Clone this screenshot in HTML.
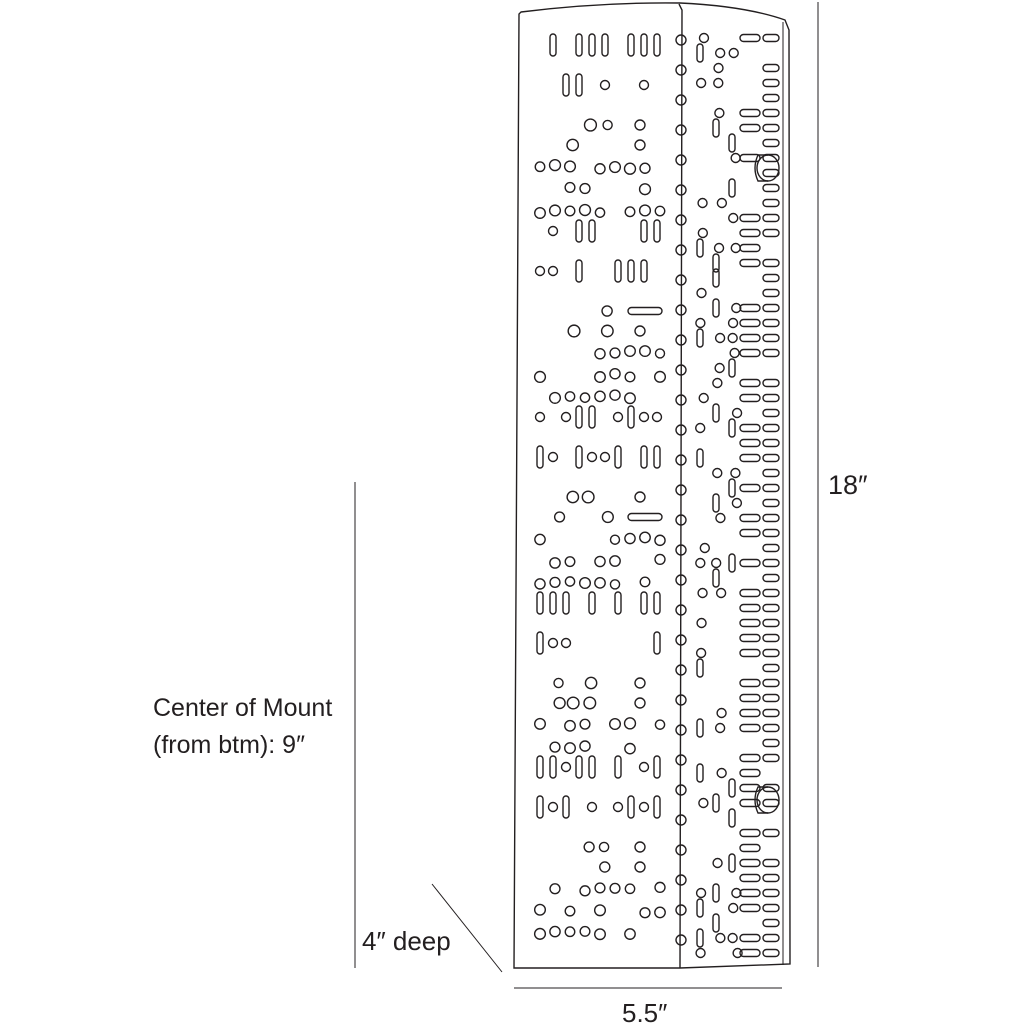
<!DOCTYPE html>
<html><head><meta charset="utf-8">
<style>
html,body{margin:0;padding:0;background:#fff;width:1024px;height:1024px;overflow:hidden}
svg{display:block}
text{font-family:"Liberation Sans",sans-serif;fill:#231f20}
</style></head>
<body>
<svg id="s" width="1024" height="1024" viewBox="0 0 1024 1024" xmlns="http://www.w3.org/2000/svg">
<g fill="none" stroke="#231f20" stroke-width="1.4">
<path d="M521,12 Q600,2 680,3 Q745,6 785,20 L789,30 L790,964 L680,968 L514,968 L517,400 L519,14 Z"/>
<path d="M783,22 L783,965" stroke-width="1"/>
<path d="M679,4 L682,10 L680,968"/>
<line x1="818" y1="2" x2="818" y2="967" stroke-width="1"/>
<line x1="355" y1="482" x2="355" y2="968" stroke-width="1"/>
<line x1="432" y1="884" x2="502" y2="972" stroke-width="1"/>
<line x1="514" y1="988" x2="782" y2="988" stroke-width="1"/>
<g id="pat" stroke-width="1.4"></g>
<ellipse cx="768" cy="168" rx="11" ry="13"/>
<path d="M768,155 L758,155 Q752,168 758,181 L768,181"/>
<ellipse cx="768" cy="800" rx="11" ry="13"/>
<path d="M768,787 L758,787 Q752,800 758,813 L768,813"/>
</g>
<text x="828" y="494" font-size="27">18″</text>
<text x="153" y="716" font-size="25">Center of Mount</text>
<text x="153" y="753" font-size="25">(from btm): 9″</text>
<text x="362" y="950" font-size="26">4″ deep</text>
<text x="622" y="1022" font-size="26">5.5″</text>
</svg>
<script>
(function(){
var g=document.getElementById('pat');var ns='http://www.w3.org/2000/svg';
var seed=11;function r(){seed=(seed*16807)%2147483647;return seed/2147483647;}
function add(tag,a){var e=document.createElementNS(ns,tag);for(var k in a)e.setAttribute(k,a[k]);g.appendChild(e);}
var y=45;
while(y<950){
  var band=Math.floor((y-45)/60)%3;
  if(band==0){
    for(var x=540;x<668;x+=13){ if(r()<0.3) continue;
      if(r()<0.7) add('rect',{x:x-3,y:y-11,width:6,height:22,rx:3});
      else add('circle',{cx:x,cy:y,r:4.5});}
    y+=40;
  } else if(band==1){
    for(var x=540;x<612;x+=16){ if(r()<0.35) add('circle',{cx:x+r()*4,cy:y,r:4.5+r()*1.5});}
    if(r()<0.7) add('rect',{x:628,y:y-3.5,width:34,height:7,rx:3.5});
    else add('circle',{cx:640,cy:y,r:5});
    y+=20;
  } else {
    for(var x=540;x<668;x+=15){ if(r()<0.4) continue;
      add('circle',{cx:x,cy:y+r()*4,r:4.5+r()});}
    y+=22;
  }
}
for(var yy=40;yy<950;yy+=30) add('circle',{cx:681,cy:yy,r:5});
for(var yy=38;yy<960;yy+=15){
  for(var x=700;x<735;x+=16){ var t=r();
    if(t<0.3) add('circle',{cx:x+r()*6,cy:yy,r:4.5});
    else if(t<0.45) add('rect',{x:x-3,y:yy-9,width:6,height:18,rx:3});}
  if(r()<0.65) add('rect',{x:740,y:yy-3.5,width:20,height:7,rx:3.5});
  if(r()<0.85) add('rect',{x:763,y:yy-3.5,width:16,height:7,rx:3.5});
}
})();
</script>
</body></html>
